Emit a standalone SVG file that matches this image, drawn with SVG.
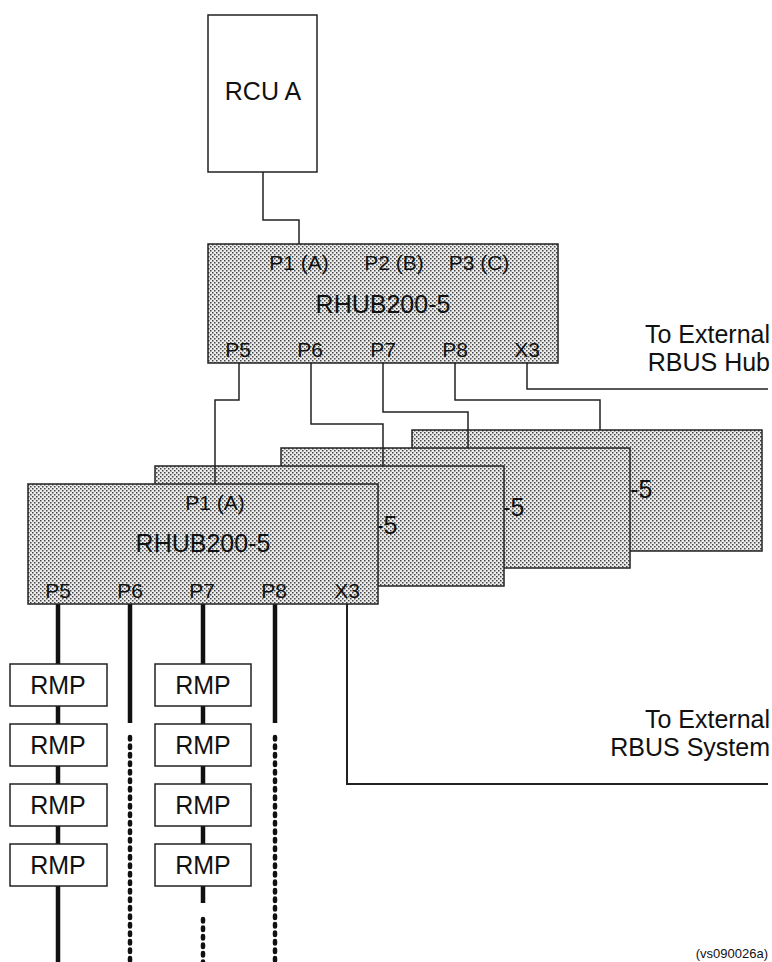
<svg xmlns="http://www.w3.org/2000/svg" width="772" height="962" viewBox="0 0 772 962">
<defs>
<pattern id="dots" width="4" height="4" patternUnits="userSpaceOnUse">
<rect width="4" height="4" fill="#ececec"/>
<rect x="0" y="0" width="1.5" height="1.5" fill="#444"/>
<rect x="2" y="2" width="1.5" height="1.5" fill="#444"/>
</pattern>
</defs>
<style>
text{font-family:"Liberation Sans",Arial,sans-serif;fill:#111}
.big{font-size:25px;text-anchor:middle}
.port{font-size:21px;text-anchor:middle}
.lbl{font-size:25px;text-anchor:end}
.hub{fill:url(#dots);stroke:#222;stroke-width:1.5}
.box{fill:#fff;stroke:#222;stroke-width:1.5}
.thin{fill:none;stroke:#222;stroke-width:1.5}
.thick{fill:none;stroke:#111;stroke-width:4.5}
.dot{fill:none;stroke:#111;stroke-width:4.5;stroke-linecap:round;stroke-dasharray:2.5 6}
</style>
<g id="rcu-a">
<rect class="box" x="208" y="15" width="109" height="157"/>
<text class="big" x="263" y="100">RCU A</text>
</g>
<g id="hub-top">
<rect class="hub" x="208" y="244" width="350" height="119"/>
<text class="port" x="299" y="270">P1 (A)</text>
<text class="port" x="394" y="270">P2 (B)</text>
<text class="port" x="479" y="270">P3 (C)</text>
<text class="big" x="383" y="313">RHUB200-5</text>
<text class="port" x="238" y="357">P5</text>
<text class="port" x="310" y="357">P6</text>
<text class="port" x="383" y="357">P7</text>
<text class="port" x="455" y="357">P8</text>
<text class="port" x="527" y="357">X3</text>
</g>
<g id="hub-4">
<rect class="hub" x="412" y="430" width="350" height="121"/>
<text class="big" x="585" y="498">RHUB200-5</text>
</g>
<g id="hub-3">
<rect class="hub" x="281" y="448" width="349" height="120"/>
<text class="big" x="457" y="516">RHUB200-5</text>
</g>
<g id="hub-2">
<rect class="hub" x="155" y="466" width="349" height="120"/>
<text class="big" x="330" y="534">RHUB200-5</text>
</g>
<g id="connectors">
<polyline class="thin" points="263,172 263,220 299,220 299,244"/>
<polyline class="thin" points="239,363 239,400 215,400 215,484"/>
<polyline class="thin" points="311,363 311,424 383,424 383,466"/>
<polyline class="thin" points="383,363 383,412 468,412 468,448"/>
<polyline class="thin" points="455,363 455,400 600,400 600,430"/>
<polyline class="thin" points="527,363 527,389 768,389"/>
<polyline class="thin" points="347,604 347,784 768,784" style="stroke-width:2"/>
<line class="thick" x1="58" y1="604" x2="58" y2="962"/>
<line class="thick" x1="130" y1="604" x2="130" y2="723"/>
<line class="dot" x1="130" y1="737" x2="130" y2="962"/>
<line class="thick" x1="203" y1="604" x2="203" y2="903"/>
<line class="dot" x1="203" y1="919" x2="203" y2="962"/>
<line class="thick" x1="275" y1="604" x2="275" y2="723"/>
<line class="dot" x1="275" y1="737" x2="275" y2="962"/>
</g>
<g id="hub-front">
<rect class="hub" x="28" y="484" width="350" height="120"/>
<text class="port" x="215" y="510">P1 (A)</text>
<text class="big" x="203" y="552">RHUB200-5</text>
<text class="port" x="58" y="598">P5</text>
<text class="port" x="130" y="598">P6</text>
<text class="port" x="202" y="598">P7</text>
<text class="port" x="274" y="598">P8</text>
<text class="port" x="347" y="598">X3</text>
</g>
<g id="rmp-l1"><rect class="box" x="10" y="664" width="97" height="42"/><text class="big" x="58" y="694">RMP</text></g>
<g id="rmp-l2"><rect class="box" x="10" y="724" width="97" height="42"/><text class="big" x="58" y="754">RMP</text></g>
<g id="rmp-l3"><rect class="box" x="10" y="784" width="97" height="42"/><text class="big" x="58" y="814">RMP</text></g>
<g id="rmp-l4"><rect class="box" x="10" y="844" width="97" height="42"/><text class="big" x="58" y="874">RMP</text></g>
<g id="rmp-r1"><rect class="box" x="155" y="664" width="96" height="42"/><text class="big" x="203" y="694">RMP</text></g>
<g id="rmp-r2"><rect class="box" x="155" y="724" width="96" height="42"/><text class="big" x="203" y="754">RMP</text></g>
<g id="rmp-r3"><rect class="box" x="155" y="784" width="96" height="42"/><text class="big" x="203" y="814">RMP</text></g>
<g id="rmp-r4"><rect class="box" x="155" y="844" width="96" height="42"/><text class="big" x="203" y="874">RMP</text></g>
<g id="labels">
<text class="lbl" x="770" y="343">To External</text>
<text class="lbl" x="770" y="371">RBUS Hub</text>
<text class="lbl" x="770" y="728">To External</text>
<text class="lbl" x="770" y="756">RBUS System</text>
<text x="768" y="958" style="font-size:13px;text-anchor:end">(vs090026a)</text>
</g>
</svg>
